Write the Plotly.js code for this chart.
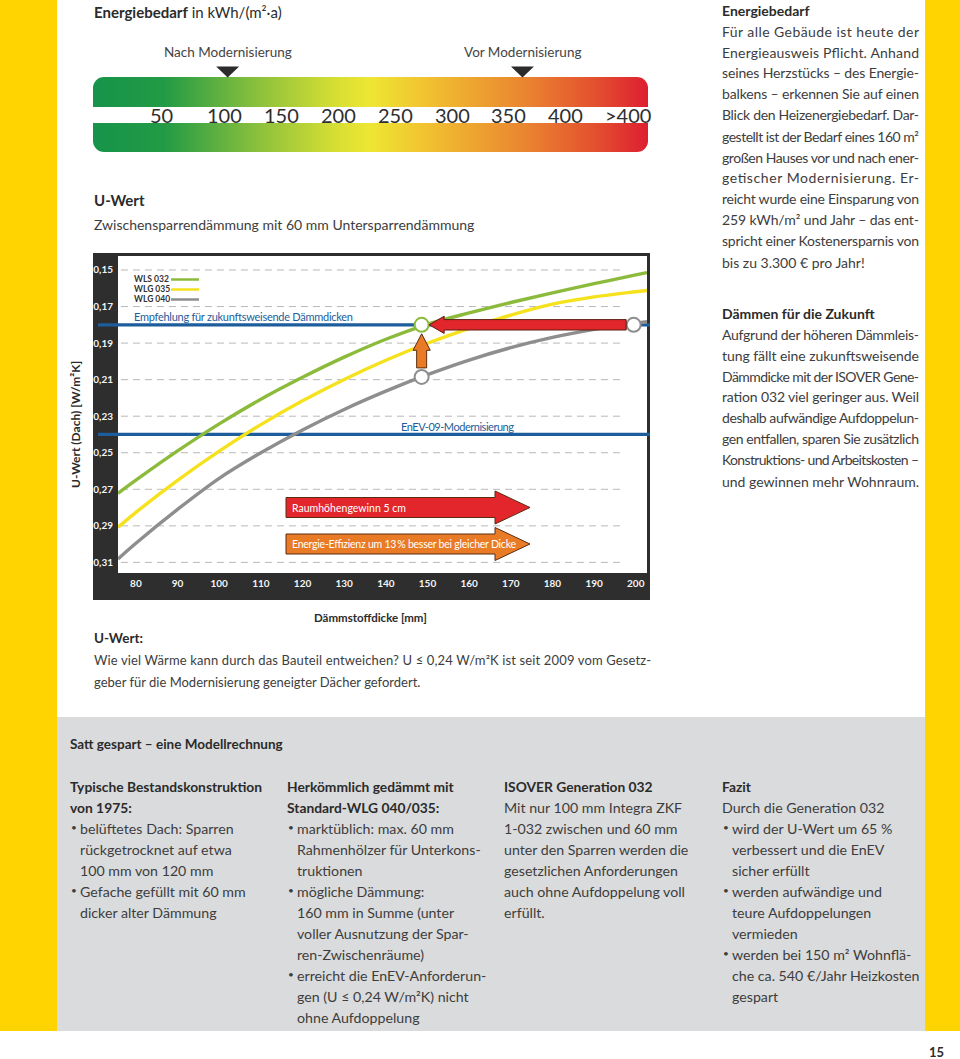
<!DOCTYPE html>
<html><head><meta charset="utf-8">
<script src="https://cdn.plot.ly/plotly-3.0.1.min.js"></script>
<style>html,body{margin:0;padding:0;background:#fff;}#chart{width:960px;height:1059px;}</style>
</head><body><div id="chart"></div>
<script>
// ---------------- DATA ----------------
const thicknessMM = [75.7, 80, 90, 100, 110, 120, 130, 140, 150, 160, 170, 180, 190, 200, 202.7];
const uWLS032 = [0.2722, 0.2650, 0.2490, 0.2342, 0.2207, 0.2087, 0.1977, 0.1879, 0.1797, 0.1735, 0.1678, 0.1625, 0.1575, 0.1527, 0.1514];
const uWLG035 = [0.2908, 0.2826, 0.2651, 0.2491, 0.2346, 0.2216, 0.2099, 0.1994, 0.1901, 0.1819, 0.1747, 0.1687, 0.1647, 0.1619, 0.1612];
const uWLG040 = [0.3081, 0.2995, 0.2810, 0.2640, 0.2500, 0.2375, 0.2263, 0.2163, 0.2073, 0.1993, 0.1925, 0.1869, 0.1825, 0.1791, 0.1783];
const seriesNames = ['WLS 032', 'WLG 035', 'WLG 040'];
const xTickVals = [80, 90, 100, 110, 120, 130, 140, 150, 160, 170, 180, 190, 200];
const yTickVals = [0.15, 0.17, 0.19, 0.21, 0.23, 0.25, 0.27, 0.29, 0.31];
const yTickText = ['0,15', '0,17', '0,19', '0,21', '0,23', '0,25', '0,27', '0,29', '0,31'];
const uRecommended = 0.18;
const uEnEV = 0.24;
const pointX = [148.6, 148.6, 199.5];
const pointU = [0.18, 0.2085, 0.18];
const energyTickVals = [50, 100, 150, 200, 250, 300, 350, 400, 450];
const energyTickText = ['50', '100', '150', '200', '250', '300', '350', '400', '>400'];
const energyLabels = ['Nach Modernisierung', 'Vor Modernisierung'];
const energyValues = [120, 379];

// ---------------- LAYOUT HELPERS ----------------
const W = 960, H = 1059;
const FONT = 'Lato, "Open Sans", sans-serif';
const fx = p => p / W;
const fy = p => 1 - p / H;
const plotPx = {x0: 118, x1: 647, y0: 255, y1: 573};
const xRange = [75.7, 202.7];
const yRange = [0.3158, 0.1418];
const dX = px => px * (xRange[1] - xRange[0]) / (plotPx.x1 - plotPx.x0);
const dY = px => px * (yRange[0] - yRange[1]) / (plotPx.y1 - plotPx.y0);

const colors = ['#8cbb3c', '#f5e11c', '#8e8e8e'];
const BLUE = '#1d5d9b';
const TXT = '#3d3d3d';
const HEAD = '#2b2b2b';

const shapes = [];
const ann = [];
const fits = [];
function rect(x0, y0, x1, y1, fill, layer) {
  shapes.push({type: 'rect', xref: 'paper', yref: 'paper', x0: fx(x0), x1: fx(x1), y0: fy(y1), y1: fy(y0),
    fillcolor: fill, line: {width: 0}, layer: layer || 'below'});
}
function txt(x, y, text, o) {
  o = o || {};
  ann.push({xref: o.xref || 'paper', yref: 'paper', x: o.xv !== undefined ? o.xv : fx(x), y: fy(y), text: text,
    showarrow: false, xanchor: o.xa || 'left', yanchor: 'middle', textangle: o.angle || 0,
    font: {family: FONT, size: o.size || 14, color: o.color || TXT}});
  if (o.fit) fits.push({idx: ann.length - 1, width: o.fit});
  return ann.length - 1;
}
function block(x, y0, lh, lines, size, hsize, justifyW) {
  lines.forEach((l, i) => {
    const y = y0 + i * lh;
    if (l.bullet) txt(x + 1, y - 1, '•', {size: 10, color: TXT});
    const xx = (l.bullet || l.ind) ? x + 10 : x;
    txt(xx, y, l.b ? '<b>' + l.t + '</b>' : l.t,
      {size: l.b ? hsize : size, color: l.b ? HEAD : TXT, fit: (l.j && justifyW) ? justifyW : 0});
  });
}
const esc = s => s.replace(/&/g, '&amp;').replace(/</g, '&lt;').replace(/>/g, '&gt;');

// ---------------- PAGE BACKGROUND ----------------
rect(0, 0, 57, 1031, '#ffd400');
rect(925, 0, 960, 1031, '#ffd400');
rect(57, 717, 925, 1031, '#dadbdc');

// ---------------- ENERGY BAR ----------------
const barSvg = '<svg xmlns="http://www.w3.org/2000/svg" width="555" height="75" viewBox="0 0 555 75">' +
  '<defs><linearGradient id="g" x1="0" y1="0" x2="1" y2="0">' +
  '<stop offset="0" stop-color="#16944a"/><stop offset="0.13" stop-color="#239b45"/>' +
  '<stop offset="0.3" stop-color="#8dc13c"/><stop offset="0.44" stop-color="#d8df33"/>' +
  '<stop offset="0.5" stop-color="#eee633"/><stop offset="0.6" stop-color="#f1c230"/>' +
  '<stop offset="0.78" stop-color="#ea8430"/><stop offset="0.9" stop-color="#e4522f"/>' +
  '<stop offset="1" stop-color="#dd1f30"/></linearGradient></defs>' +
  '<rect x="0" y="0" width="555" height="75" rx="11" ry="11" fill="url(#g)"/></svg>';
const images = [{source: 'data:image/svg+xml;charset=utf-8,' + encodeURIComponent(barSvg),
  xref: 'paper', yref: 'paper', x: fx(93), y: fy(77), sizex: 555 / W, sizey: 75 / H,
  xanchor: 'left', yanchor: 'top', sizing: 'stretch', layer: 'below'}];
rect(93, 107, 648, 123, '#ffffff');
energyTickVals.forEach((v, i) => txt(0, 115.5, esc(energyTickText[i]), {xref: 'x2', xv: v, size: 20, color: '#2e2e2e'}));
energyValues.forEach((v, i) => {
  shapes.push({type: 'path', xref: 'x2', yref: 'paper', xsizemode: 'pixel', ysizemode: 'pixel',
    xanchor: v, yanchor: fy(72), path: 'M-11.5,5.5 L11.5,5.5 L0,-5.5 Z', fillcolor: '#2b2b2b', line: {width: 0}, layer: 'above'});
  txt(0, 52, energyLabels[i], {xref: 'x2', xv: v, xa: 'center', size: 13.5, color: '#444'});
});

// ---------------- CHART FRAME ----------------
rect(93, 253, 650, 600, '#2e2e2e');
rect(plotPx.x0, plotPx.y0 + 1, plotPx.x1, plotPx.y1, '#ffffff');
yTickVals.forEach(v => shapes.push({type: 'line', xref: 'paper', yref: 'y', x0: fx(121), x1: fx(622), y0: v, y1: v,
  line: {color: '#b9b9b9', width: 1, dash: '7px,5px'}, layer: 'below'}));
[uRecommended, uEnEV].forEach(v => shapes.push({type: 'line', xref: 'paper', yref: 'y', x0: fx(98), x1: fx(650), y0: v, y1: v,
  line: {color: BLUE, width: 3.2}, layer: 'below'}));

// legend inside chart
seriesNames.forEach((n, i) => {
  const y = 279 + i * 10;
  txt(132, y, '<b>' + n + '</b>', {size: 8.5, color: '#333'});
  shapes.push({type: 'line', xref: 'paper', yref: 'paper', x0: fx(171), x1: fx(199), y0: fy(y + 0.5), y1: fy(y + 0.5),
    line: {color: colors[i], width: 2.5}, layer: 'above'});
});
txt(132, 316.5, 'Empfehlung für zukunftsweisende Dämmdicken', {size: 11, color: BLUE, fit: 219});
txt(399, 426, 'EnEV-09-Modernisierung', {size: 11, color: BLUE, fit: 113});

// small arrows between the marked points
const mr = 7;
(function () {
  const gx = pointX[0], gy = pointU[0];
  const tipX = gx + dX(mr + 0.5), baseX = tipX + dX(15), tailX = pointX[2] - dX(mr + 0.5);
  const hb = dY(5.2), hh = dY(8.6);
  shapes.push({type: 'path', xref: 'x', yref: 'y', layer: 'above', fillcolor: '#e2262b', line: {color: '#5a1d12', width: 1},
    path: `M${tipX},${gy} L${baseX},${gy - hh} L${baseX},${gy - hb} L${tailX},${gy - hb} L${tailX},${gy + hb} L${baseX},${gy + hb} L${baseX},${gy + hh} Z`});
  const tipU = gy + dY(mr + 2), baseU = tipU + dY(16.5), tailU = pointU[1] - dY(mr + 2);
  const vb = dX(5), vh = dX(8.6);
  shapes.push({type: 'path', xref: 'x', yref: 'y', layer: 'above', fillcolor: '#e97b26', line: {color: '#5a2d10', width: 1},
    path: `M${gx},${tipU} L${gx + vh},${baseU} L${gx + vb},${baseU} L${gx + vb},${tailU} L${gx - vb},${tailU} L${gx - vb},${baseU} L${gx - vh},${baseU} Z`});
})();

// big labelled arrows
function bigArrow(x0, xb, xt, yc, hb, hh, fill, label, fitW) {
  const P = (x, y) => fx(x) + ',' + fy(y);
  shapes.push({type: 'path', xref: 'paper', yref: 'paper', layer: 'above', fillcolor: fill, line: {color: '#5a2d10', width: 1},
    path: 'M' + P(x0, yc - hb) + ' L' + P(xb, yc - hb) + ' L' + P(xb, yc - hh) + ' L' + P(xt, yc) + ' L' + P(xb, yc + hh) +
      ' L' + P(xb, yc + hb) + ' L' + P(x0, yc + hb) + ' Z'});
  txt(x0 + 4, yc, label, {size: 10.5, color: '#ffffff', fit: fitW});
}
bigArrow(286, 495, 530, 507.5, 10, 16.5, '#e2262b', 'Raumhöhengewinn 5 cm', 114);
bigArrow(286, 495, 530, 544, 10, 16.5, '#e97b26', 'Energie-Effizienz um 13\u2009% besser bei gleicher Dicke', 224);

// ---------------- TEXTS ----------------
txt(92, 12, '<b>Energiebedarf</b> in kWh/(m²·a)', {size: 15, color: HEAD});
txt(92, 200, '<b>U-Wert</b>', {size: 15, color: HEAD});
txt(92, 225, 'Zwischensparrendämmung mit 60 mm Untersparrendämmung', {size: 14, color: TXT});
txt(75, 425, '<b>U-Wert (Dach) [W/m²K]</b>', {xa: 'center', angle: -90, size: 12, color: HEAD});
txt(370, 617, '<b>Dämmstoffdicke [mm]</b>', {xa: 'center', size: 11.5, color: HEAD});
txt(92, 638, '<b>U-Wert:</b>', {size: 13.5, color: HEAD});
txt(92, 660, 'Wie viel Wärme kann durch das Bauteil entweichen? U ≤ 0,24 W/m²K ist seit 2009 vom Gesetz-', {size: 13, fit: 557});
txt(92, 682, 'geber für die Modernisierung geneigter Dächer gefordert.', {size: 13});

block(720, 10, 21, [
  {t: 'Energiebedarf', b: true},
  {t: 'Für alle Gebäude ist heute der', j: true},
  {t: 'Energieausweis Pflicht. Anhand', j: true},
  {t: 'seines Herzstücks – des Energie-', j: true},
  {t: 'balkens – erkennen Sie auf einen', j: true},
  {t: 'Blick den Heizenergiebedarf. Dar-', j: true},
  {t: 'gestellt ist der Bedarf eines 160 m²', j: true},
  {t: 'großen Hauses vor und nach ener-', j: true},
  {t: 'getischer Modernisierung. Er-', j: true},
  {t: 'reicht wurde eine Einsparung von', j: true},
  {t: '259 kWh/m² und Jahr – das ent-', j: true},
  {t: 'spricht einer Kostenersparnis von', j: true},
  {t: 'bis zu 3.300 € pro Jahr!'}
], 14, 14, 197);
block(720, 313, 21, [
  {t: 'Dämmen für die Zukunft', b: true},
  {t: 'Aufgrund der höheren Dämmleis-', j: true},
  {t: 'tung fällt eine zukunftsweisende', j: true},
  {t: 'Dämmdicke mit der ISOVER Gene-', j: true},
  {t: 'ration 032 viel geringer aus. Weil', j: true},
  {t: 'deshalb aufwändige Aufdoppelun-', j: true},
  {t: 'gen entfallen, sparen Sie zusätzlich', j: true},
  {t: 'Konstruktions- und Arbeitskosten –', j: true},
  {t: 'und gewinnen mehr Wohnraum.'}
], 14, 14, 197);

txt(68, 744, '<b>Satt gespart – eine Modellrechnung</b>', {size: 13.5, color: HEAD});
block(68, 786, 21, [
  {t: 'Typische Bestandskonstruktion', b: true},
  {t: 'von 1975:', b: true},
  {t: 'belüftetes Dach: Sparren', bullet: true},
  {t: 'rückgetrocknet auf etwa', ind: true},
  {t: '100 mm von 120 mm', ind: true},
  {t: 'Gefache gefüllt mit 60 mm', bullet: true},
  {t: 'dicker alter Dämmung', ind: true}
], 14.2, 13.8);
block(285, 786, 21, [
  {t: 'Herkömmlich gedämmt mit', b: true},
  {t: 'Standard-WLG 040/035:', b: true},
  {t: 'marktüblich: max. 60 mm', bullet: true},
  {t: 'Rahmenhölzer für Unterkons-', ind: true},
  {t: 'truktionen', ind: true},
  {t: 'mögliche Dämmung:', bullet: true},
  {t: '160 mm in Summe (unter', ind: true},
  {t: 'voller Ausnutzung der Spar-', ind: true},
  {t: 'ren-Zwischenräume)', ind: true},
  {t: 'erreicht die EnEV-Anforderun-', bullet: true},
  {t: 'gen (U ≤ 0,24 W/m²K) nicht', ind: true},
  {t: 'ohne Aufdoppelung', ind: true}
], 14.2, 13.8);
block(502, 786, 21, [
  {t: 'ISOVER Generation 032', b: true},
  {t: 'Mit nur 100 mm Integra ZKF'},
  {t: '1-032 zwischen und 60 mm'},
  {t: 'unter den Sparren werden die'},
  {t: 'gesetzlichen Anforderungen'},
  {t: 'auch ohne Aufdoppelung voll'},
  {t: 'erfüllt.'}
], 14.2, 13.8);
block(720, 786, 21, [
  {t: 'Fazit', b: true},
  {t: 'Durch die Generation 032'},
  {t: 'wird der U-Wert um 65 %', bullet: true},
  {t: 'verbessert und die EnEV', ind: true},
  {t: 'sicher erfüllt', ind: true},
  {t: 'werden aufwändige und', bullet: true},
  {t: 'teure Aufdoppelungen', ind: true},
  {t: 'vermieden', ind: true},
  {t: 'werden bei 150 m² Wohnflä-', bullet: true},
  {t: 'che ca. 540 €/Jahr Heizkosten', ind: true},
  {t: 'gespart', ind: true}
], 14.2, 13.8);
txt(936, 1052, '<b>15</b>', {xa: 'center', size: 13, color: HEAD});

// ---------------- TRACES ----------------
const seriesU = [uWLS032, uWLG035, uWLG040];
const traces = seriesU.map((u, i) => ({
  type: 'scatter', mode: 'lines', name: seriesNames[i], x: thicknessMM, y: u, xaxis: 'x', yaxis: 'y',
  line: {color: colors[i], width: 3.4, shape: 'spline', smoothing: 1}, hoverinfo: 'skip'
}));
traces.push({type: 'scatter', mode: 'markers', x: pointX, y: pointU, xaxis: 'x', yaxis: 'y', hoverinfo: 'skip',
  marker: {size: 14, color: '#ffffff', line: {width: 2, color: [colors[0], colors[2], colors[2]]}}});
traces.push({type: 'scatter', mode: 'markers', x: energyValues, y: [0.5, 0.5], xaxis: 'x2', yaxis: 'y2',
  marker: {size: 1, opacity: 0}, hoverinfo: 'skip'});

const layout = {
  width: W, height: H, margin: {l: 0, r: 0, t: 0, b: 0},
  paper_bgcolor: '#ffffff', plot_bgcolor: 'rgba(0,0,0,0)',
  showlegend: false, hovermode: false, separators: ',.',
  font: {family: FONT, color: TXT},
  xaxis: {domain: [fx(plotPx.x0), fx(plotPx.x1)], range: xRange, anchor: 'y',
    tickvals: xTickVals, ticks: '', showgrid: false, zeroline: false, showline: false,
    tickfont: {family: FONT, size: 10, color: '#f4f4f4', weight: 'bold'}, ticklabelstandoff: 3},
  yaxis: {domain: [fy(plotPx.y1), fy(plotPx.y0)], range: yRange, anchor: 'x',
    tickvals: yTickVals, ticktext: yTickText, ticks: '', showgrid: false, zeroline: false, showline: false,
    tickfont: {family: FONT, size: 10, color: '#f4f4f4', weight: 'bold'}, ticklabelstandoff: 4},
  xaxis2: {domain: [fx(93), fx(648)], range: [1.7, 489.3], anchor: 'y2', visible: false},
  yaxis2: {domain: [fy(80), fy(60)], range: [0, 1], anchor: 'x2', visible: false},
  shapes: shapes, annotations: ann, images: images
};
Plotly.newPlot('chart', traces, layout, {staticPlot: true, displayModeBar: false}).then(function () {
  // stretch / compress justified lines to their column width (like the printed justified text)
  fits.forEach(function (f) {
    const g = document.querySelector('.annotation[data-index="' + f.idx + '"]');
    if (!g) return;
    const t = g.querySelector('text.annotation-text');
    if (!t || t.querySelector('tspan.line')) return;
    const nat = t.getComputedTextLength();
    const x = parseFloat(t.getAttribute('x')) || 0;
    t.setAttribute('text-anchor', 'start');
    t.setAttribute('x', x - nat / 2);
    t.setAttribute('textLength', f.width);
    t.setAttribute('lengthAdjust', 'spacing');
  });
});
</script></body></html>
